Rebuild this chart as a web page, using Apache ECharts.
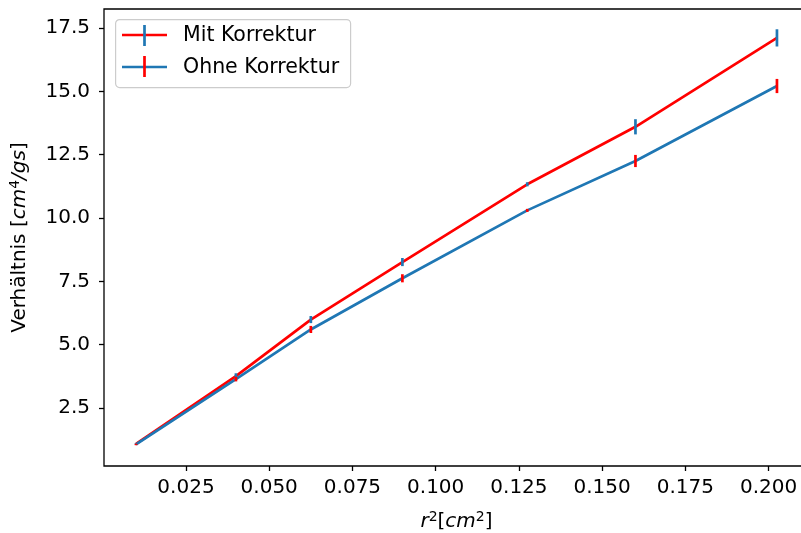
<!DOCTYPE html>
<html>
<head>
<meta charset="utf-8">
<script src="https://cdn.jsdelivr.net/npm/echarts@6/dist/echarts.min.js"></script>
<style>html,body{margin:0;padding:0;background:#fff;}#c{width:801px;height:533px;}</style>
</head>
<body>
<div id="c"></div>
<script>
// r^2 in cm^2
const xVals = [0.01, 0.04, 0.0625, 0.09, 0.1275, 0.16, 0.2025];
const mitVals = [1.08, 3.76, 5.99, 8.26, 11.33, 13.60, 17.11];
const mitErr = [0.03, 0.11, 0.14, 0.16, 0.08, 0.30, 0.34];
const ohneVals = [1.06, 3.64, 5.60, 7.62, 10.30, 12.25, 15.21];
const ohneErr = [0.03, 0.09, 0.14, 0.16, 0.06, 0.24, 0.28];
const xTicks = [0.025, 0.05, 0.075, 0.1, 0.125, 0.15, 0.175, 0.2];
const yTicks = [2.5, 5, 7.5, 10, 12.5, 15, 17.5];
const seriesNames = ['Mit Korrektur', 'Ohne Korrektur'];

const RED = '#ff0000', BLUE = '#1f77b4';
const FONT = 'DejaVu Sans';

function pairs(xs, ys) { return xs.map((x, i) => [x, ys[i]]); }
function errData(xs, ys, es) { return xs.map((x, i) => [x, ys[i] - es[i], ys[i] + es[i]]); }
function errRender(color) {
  return function (params, api) {
    const p1 = api.coord([api.value(0), api.value(1)]);
    const p2 = api.coord([api.value(0), api.value(2)]);
    return { type: 'line', shape: { x1: p1[0], y1: p1[1], x2: p2[0], y2: p2[1] },
      style: { stroke: color, lineWidth: 2.7 } };
  };
}

const chart = echarts.init(document.getElementById('c'), null, { renderer: 'canvas' });
const lx = 115, ly = 19;
chart.setOption({
  animation: false,
  backgroundColor: '#fff',
  textStyle: { fontFamily: FONT },
  grid: { left: 104, top: 9, right: -8, bottom: 67, show: true, borderColor: '#000', borderWidth: 1.3,
    backgroundColor: 'transparent', containLabel: false, outerBoundsMode: 'none' },
  xAxis: {
    type: 'value', min: 0.000375, max: 0.212125,
    axisLine: { show: false },
    splitLine: { show: false },
    axisTick: { show: true, length: 5, lineStyle: { color: '#000', width: 1.3 }, customValues: xTicks },
    axisLabel: { color: '#000', fontSize: 20, fontFamily: FONT, margin: 12, customValues: xTicks,
      formatter: v => v.toFixed(3) },
    name: '{it|r}{sup|2}{n|[}{it|cm}{sup|2}{n|]}',
    nameLocation: 'middle', nameGap: 44,
    nameTextStyle: { fontSize: 20, fontFamily: FONT, color: '#000',
      rich: {
        it: { fontSize: 20, fontStyle: 'italic', fontFamily: FONT, color: '#000' },
        n: { fontSize: 20, fontFamily: FONT, color: '#000' },
        sup: { fontSize: 14, fontStyle: 'normal', fontFamily: FONT, color: '#000', verticalAlign: 'top', padding: [0, 0, 10, 0] }
      } }
  },
  yAxis: {
    type: 'value', min: 0.21, max: 18.25,
    axisLine: { show: false },
    splitLine: { show: false },
    axisTick: { show: true, length: 5, lineStyle: { color: '#000', width: 1.3 }, customValues: yTicks },
    axisLabel: { color: '#000', fontSize: 20, fontFamily: FONT, margin: 14, customValues: yTicks,
      formatter: v => v.toFixed(1) },
    name: '{n|Verhältnis [}{it|cm}{sup|4}{it|/gs}{n|]}',
    nameLocation: 'middle', nameGap: 72, nameRotate: 90,
    nameTextStyle: { fontSize: 20, fontFamily: FONT, color: '#000',
      rich: {
        it: { fontSize: 20, fontStyle: 'italic', fontFamily: FONT, color: '#000' },
        n: { fontSize: 20, fontFamily: FONT, color: '#000' },
        sup: { fontSize: 14, fontFamily: FONT, color: '#000', verticalAlign: 'top', padding: [0, 0, 10, 0] }
      } }
  },
  series: [
    { name: seriesNames[0], type: 'line', data: pairs(xVals, mitVals), symbol: 'none',
      lineStyle: { color: RED, width: 2.7 }, itemStyle: { color: RED }, z: 2 },
    { name: seriesNames[0] + ' err', type: 'custom', data: errData(xVals, mitVals, mitErr),
      renderItem: errRender(BLUE), encode: { x: 0, y: [1, 2] }, z: 3 },
    { name: seriesNames[1], type: 'line', data: pairs(xVals, ohneVals), symbol: 'none',
      lineStyle: { color: BLUE, width: 2.7 }, itemStyle: { color: BLUE }, z: 4 },
    { name: seriesNames[1] + ' err', type: 'custom', data: errData(xVals, ohneVals, ohneErr),
      renderItem: errRender(RED), encode: { x: 0, y: [1, 2] }, z: 5 }
  ],
  graphic: [
    { type: 'rect', left: lx, top: ly, z: 100,
      shape: { width: 235, height: 68, r: 4 },
      style: { fill: 'rgba(255,255,255,0.8)', stroke: '#cccccc', lineWidth: 1.2 } },
    { type: 'line', z: 101, shape: { x1: 122, y1: 35, x2: 167, y2: 35 }, style: { stroke: RED, lineWidth: 2.7 } },
    { type: 'line', z: 102, shape: { x1: 144.5, y1: 25, x2: 144.5, y2: 46 }, style: { stroke: BLUE, lineWidth: 2.7 } },
    { type: 'text', z: 101, x: 183, y: 36, style: { text: seriesNames[0], fontSize: 20.5, fontFamily: FONT, fill: '#000', verticalAlign: 'middle' } },
    { type: 'line', z: 101, shape: { x1: 122, y1: 67, x2: 167, y2: 67 }, style: { stroke: BLUE, lineWidth: 2.7 } },
    { type: 'line', z: 102, shape: { x1: 144.5, y1: 56, x2: 144.5, y2: 77 }, style: { stroke: RED, lineWidth: 2.7 } },
    { type: 'text', z: 101, x: 183, y: 68, style: { text: seriesNames[1], fontSize: 20.5, fontFamily: FONT, fill: '#000', verticalAlign: 'middle' } }
  ]
});
</script>
</body>
</html>
